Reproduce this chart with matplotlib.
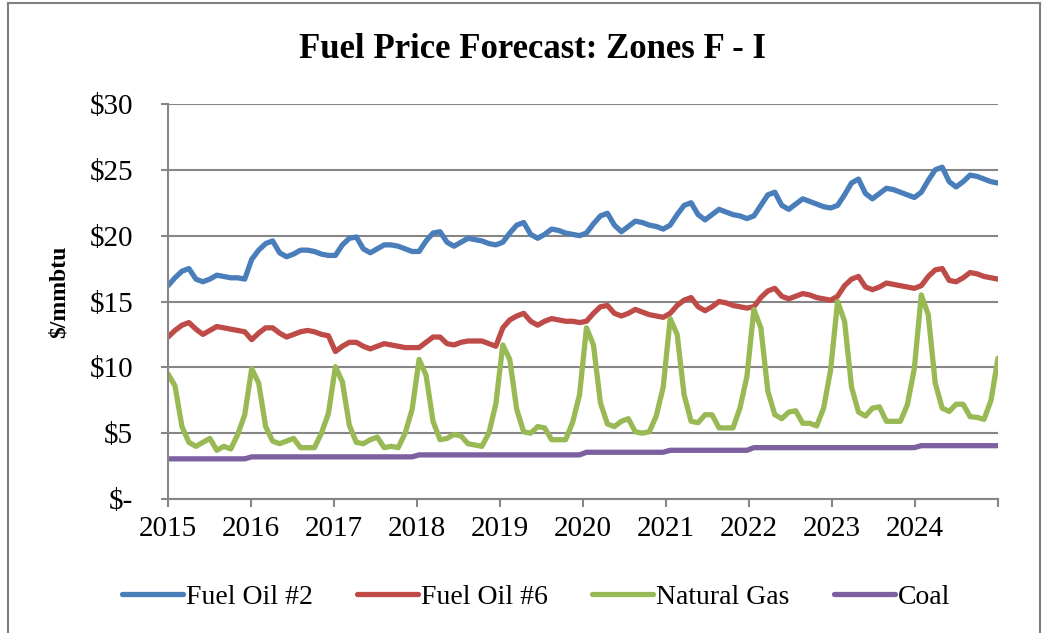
import matplotlib
matplotlib.use("Agg")
import matplotlib.pyplot as plt
from matplotlib.patches import Rectangle
from matplotlib.ticker import FuncFormatter
import numpy as np

plt.rcParams['font.family'] = ['Liberation Serif', 'DejaVu Serif']

# monthly forecasts, Jan 2015 - Dec 2024, one row per year
fuel_oil_2 = [
    [16.2, 16.8, 17.3, 17.5, 16.7, 16.5, 16.7, 17.0, 16.9, 16.8, 16.8, 16.7],
    [18.2, 18.9, 19.4, 19.6, 18.7, 18.4, 18.6, 18.9, 18.9, 18.8, 18.6, 18.5],
    [18.5, 19.3, 19.8, 19.9, 19.0, 18.7, 19.0, 19.3, 19.3, 19.2, 19.0, 18.8],
    [18.8, 19.6, 20.2, 20.3, 19.5, 19.2, 19.5, 19.8, 19.7, 19.6, 19.4, 19.3],
    [19.5, 20.2, 20.8, 21.0, 20.1, 19.8, 20.1, 20.5, 20.4, 20.2, 20.1, 20.0],
    [20.2, 20.9, 21.5, 21.7, 20.8, 20.3, 20.7, 21.1, 21.0, 20.8, 20.7, 20.5],
    [20.8, 21.6, 22.3, 22.5, 21.6, 21.2, 21.6, 22.0, 21.8, 21.6, 21.5, 21.3],
    [21.5, 22.3, 23.1, 23.3, 22.3, 22.0, 22.4, 22.8, 22.6, 22.4, 22.2, 22.1],
    [22.3, 23.1, 24.0, 24.3, 23.2, 22.8, 23.2, 23.6, 23.5, 23.3, 23.1, 22.9],
    [23.3, 24.2, 25.0, 25.2, 24.1, 23.7, 24.1, 24.6, 24.5, 24.3, 24.1, 24.0],
]
fuel_oil_6 = [
    [12.3, 12.8, 13.2, 13.4, 12.9, 12.5, 12.8, 13.1, 13.0, 12.9, 12.8, 12.7],
    [12.1, 12.6, 13.0, 13.0, 12.6, 12.3, 12.5, 12.7, 12.8, 12.7, 12.5, 12.4],
    [11.2, 11.6, 11.9, 11.9, 11.6, 11.4, 11.6, 11.8, 11.7, 11.6, 11.5, 11.5],
    [11.5, 11.9, 12.3, 12.3, 11.8, 11.7, 11.9, 12.0, 12.0, 12.0, 11.8, 11.6],
    [13.0, 13.6, 13.9, 14.1, 13.5, 13.2, 13.5, 13.7, 13.6, 13.5, 13.5, 13.4],
    [13.5, 14.1, 14.6, 14.7, 14.1, 13.9, 14.1, 14.4, 14.2, 14.0, 13.9, 13.8],
    [14.1, 14.7, 15.1, 15.3, 14.6, 14.3, 14.6, 15.0, 14.9, 14.7, 14.6, 14.5],
    [14.6, 15.3, 15.8, 16.0, 15.4, 15.2, 15.4, 15.6, 15.5, 15.3, 15.2, 15.1],
    [15.4, 16.2, 16.7, 16.9, 16.1, 15.9, 16.1, 16.4, 16.3, 16.2, 16.1, 16.0],
    [16.2, 16.9, 17.4, 17.5, 16.6, 16.5, 16.8, 17.2, 17.1, 16.9, 16.8, 16.7],
]
natural_gas = [
    [9.5, 8.6, 5.5, 4.3, 4.0, 4.3, 4.6, 3.7, 4.0, 3.8, 4.9, 6.4],
    [9.9, 8.8, 5.5, 4.4, 4.2, 4.4, 4.6, 3.9, 3.9, 3.9, 5.0, 6.5],
    [10.05, 8.9, 5.6, 4.3, 4.2, 4.5, 4.7, 3.9, 4.0, 3.9, 5.0, 6.8],
    [10.6, 9.4, 5.9, 4.5, 4.6, 4.9, 4.8, 4.2, 4.1, 4.0, 5.0, 7.2],
    [11.7, 10.6, 6.8, 5.1, 5.0, 5.5, 5.4, 4.5, 4.5, 4.5, 5.8, 7.9],
    [13.0, 11.7, 7.3, 5.7, 5.5, 5.9, 6.1, 5.1, 5.0, 5.1, 6.3, 8.5],
    [13.7, 12.5, 7.9, 5.9, 5.8, 6.4, 6.4, 5.4, 5.4, 5.4, 6.9, 9.3],
    [14.4, 13.0, 8.2, 6.4, 6.1, 6.6, 6.7, 5.75, 5.75, 5.55, 6.9, 9.8],
    [15.0, 13.5, 8.5, 6.6, 6.3, 6.9, 7.0, 5.9, 5.9, 5.9, 7.15, 9.9],
    [15.5, 14.0, 8.8, 6.9, 6.65, 7.2, 7.2, 6.25, 6.2, 6.05, 7.5, 10.7],
]
coal_annual = [3.05, 3.2, 3.2, 3.35, 3.35, 3.55, 3.7, 3.9, 3.9, 4.05]
years = [2015, 2016, 2017, 2018, 2019, 2020, 2021, 2022, 2023, 2024]

series = [
    ("Fuel Oil #2", np.concatenate(fuel_oil_2), "#4A7EBB"),
    ("Fuel Oil #6", np.concatenate(fuel_oil_6), "#BE4B48"),
    ("Natural Gas", np.concatenate(natural_gas), "#98B954"),
    ("Coal", np.repeat(coal_annual, 12), "#7D60A0"),
]
months = np.arange(len(series[0][1]))

W, H = 1045, 633
fig = plt.figure(figsize=(W / 100, H / 100), dpi=100)
ax = fig.add_axes([168 / W, 1 - 499 / H, 830 / W, 395 / H])

grid_c = "#868686"
for label, vals, col in series:
    ax.plot(months, vals, color=col, lw=3.8, label=label,
            solid_joinstyle='round', solid_capstyle='round')

ax.set_xlim(0, months[-1])
ax.set_ylim(0, 30)
ax.set_yticks(range(0, 31, 5))
ax.yaxis.set_major_formatter(FuncFormatter(lambda v, p: "$-" if v == 0 else "$%d" % v))
ax.set_xticks(np.linspace(0, months[-1], 11))
ax.set_xticklabels([str(y) for y in years] + [""])
ax.grid(axis='y', color=grid_c, lw=1.5)
ax.set_axisbelow(True)
for s in ("top", "right"):
    ax.spines[s].set_visible(False)
for s in ("left", "bottom"):
    ax.spines[s].set_color(grid_c)
    ax.spines[s].set_linewidth(1.5)
ax.tick_params(axis='x', direction='out', length=6, width=1.5, color=grid_c,
               labelsize=21, pad=6)
ax.tick_params(axis='y', direction='out', length=5, width=1.5, color=grid_c,
               labelsize=21, pad=20)

fig.text(532 / W, 1 - 49 / H, "Fuel Price Forecast: Zones F - I",
         ha='center', va='center', fontsize=25, fontweight='bold')
fig.text(59 / W, 1 - 292 / H, "$/mmbtu", rotation=90, ha='center', va='center',
         fontsize=17, fontweight='bold')

fig.legend(loc='center', bbox_to_anchor=(536 / W, 1 - 597 / H), ncol=4,
           frameon=False, fontsize=20, handlelength=2.2, handletextpad=0.1,
           columnspacing=1.6)

fig.add_artist(Rectangle((8 / W, -0.01), 1032 / W, 1.0 - 3 / H + 0.01,
                         transform=fig.transFigure, fill=False,
                         edgecolor="#7F7F7F", lw=1.5))

fig.savefig("out.png", dpi=100)
